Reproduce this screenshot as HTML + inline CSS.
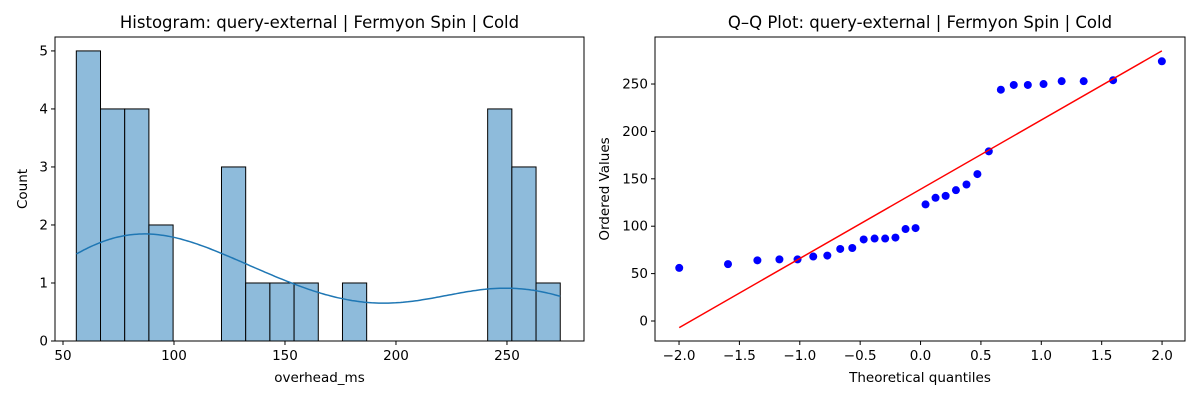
<!DOCTYPE html>
<html><head><meta charset="utf-8"><style>
body{margin:0;background:#fff}
svg{font-family:"DejaVu Sans","Liberation Sans",sans-serif}
</style></head><body>
<svg id="c" width="1200" height="400"></svg>
<script>
const samples=[56,60,64,65,65,68,69,76,77,86,87,87,88,97,98,123,130,132,138,144,155,179,244,249,249,250,253,253,254,274];
const histXTicks=[50,100,150,200,250];
const histYTicks=[0,1,2,3,4,5];
const qqXTicks=[-2.0,-1.5,-1.0,-0.5,0.0,0.5,1.0,1.5,2.0];
const qqYTicks=[0,50,100,150,200,250];
const binCount=20;

const NS="http://www.w3.org/2000/svg";
const svg=document.getElementById('c');
function mk(tag,attrs,parent,text){const e=document.createElementNS(NS,tag);for(const k in attrs)e.setAttribute(k,attrs[k]);if(text!==undefined)e.textContent=text;(parent||svg).appendChild(e);return e;}

// ---------- Histogram ----------
const H={l:55,r:584,t:37,b:341,x0:46.4,x1:284.7,y0:0,y1:5.24};
const hx=v=>H.l+(v-H.x0)/(H.x1-H.x0)*(H.r-H.l);
const hy=v=>H.b-(v-H.y0)/(H.y1-H.y0)*(H.b-H.t);
const mn=Math.min(...samples),mx=Math.max(...samples),bw=(mx-mn)/binCount;
const counts=new Array(binCount).fill(0);
samples.forEach(v=>{let i=Math.floor((v-mn)/bw);if(i>=binCount)i=binCount-1;counts[i]++;});
const g1=mk('g',{});


counts.forEach((c,i)=>{if(!c)return;const r=mk('rect',{x:hx(mn+i*bw),y:hy(c),width:hx(mn+(i+1)*bw)-hx(mn+i*bw),height:hy(0)-hy(c),fill:'#8ebbdb',stroke:'#000','stroke-width':1},g1);

});
const n=samples.length,mean=samples.reduce((a,b)=>a+b)/n;
const sd=Math.sqrt(samples.reduce((a,b)=>a+(b-mean)**2,0)/(n-1));
const h=sd*Math.pow(n,-0.2);
let d='';for(let k=0;k<=200;k++){const x=mn+(mx-mn)*k/200;let s=0;samples.forEach(v=>{s+=Math.exp(-0.5*((x-v)/h)**2);});const dens=s/(n*h*Math.sqrt(2*Math.PI));d+=(k?'L':'M')+hx(x).toFixed(1)+','+hy(dens*n*bw).toFixed(1);}
const kde=mk('path',{d:d,fill:'none',stroke:'#1f77b4','stroke-width':1.5},g1);


mk('rect',{x:H.l,y:H.t,width:H.r-H.l,height:H.b-H.t,fill:'none',stroke:'#000','stroke-width':1},g1);
histXTicks.forEach(t=>{const x=hx(t);mk('line',{x1:x,x2:x,y1:H.b,y2:H.b+4,stroke:'#000'},g1);const tx=mk('text',{x:x,y:H.b+19,'text-anchor':'middle','font-size':13.5},g1,t);

});
histYTicks.forEach(t=>{const y=hy(t);mk('line',{x1:H.l-4,x2:H.l,y1:y,y2:y,stroke:'#000'},g1);const tx=mk('text',{x:H.l-7,y:y+4.5,'text-anchor':'end','font-size':13.5},g1,t);

});
const t1=mk('text',{x:(H.l+H.r)/2,y:28,'text-anchor':'middle','font-size':16.5},g1,'Histogram: query-external | Fermyon Spin | Cold');


const xl1=mk('text',{x:(H.l+H.r)/2,y:382,'text-anchor':'middle','font-size':13.5},g1,'overhead_ms');


const yl1=mk('text',{x:0,y:0,'text-anchor':'middle','font-size':13.5,transform:`translate(27,${(H.t+H.b)/2}) rotate(-90)`},g1,'Count');



// ---------- Q-Q ----------
function ppf(p){const a=[-39.6968302866538,220.946098424521,-275.928510446969,138.357751867269,-30.6647980661472,2.50662827745924],b=[-54.4760987982241,161.585836858041,-155.698979859887,66.8013118877197,-13.2806815528857],c=[-0.00778489400243029,-0.322396458041136,-2.40075827716184,-2.54973253934373,4.37466414146497,2.93816398269878],dd=[0.00778469570904146,0.32246712907004,2.445134137143,3.75440866190742];const pl=0.02425;let q,r;
if(p<pl){q=Math.sqrt(-2*Math.log(p));return(((((c[0]*q+c[1])*q+c[2])*q+c[3])*q+c[4])*q+c[5])/((((dd[0]*q+dd[1])*q+dd[2])*q+dd[3])*q+1);}
if(p>1-pl){q=Math.sqrt(-2*Math.log(1-p));return-(((((c[0]*q+c[1])*q+c[2])*q+c[3])*q+c[4])*q+c[5])/((((dd[0]*q+dd[1])*q+dd[2])*q+dd[3])*q+1);}
q=p-0.5;r=q*q;return(((((a[0]*r+a[1])*r+a[2])*r+a[3])*r+a[4])*r+a[5])*q/(((((b[0]*r+b[1])*r+b[2])*r+b[3])*r+b[4])*r+1);}
const ord=[...samples].sort((a,b)=>a-b);
const mq=[];const mN=Math.pow(0.5,1/n);
for(let i=1;i<=n;i++){let m=i===n?mN:(i===1?1-mN:(i-0.3175)/(n+0.365));mq.push(ppf(m));}
const Q={l:655,r:1185,t:37,b:341,x0:-2.199,x1:2.19,y0:-21.1,y1:299.6};
const qx=v=>Q.l+(v-Q.x0)/(Q.x1-Q.x0)*(Q.r-Q.l);
const qy=v=>Q.b-(v-Q.y0)/(Q.y1-Q.y0)*(Q.b-Q.t);
const g2=mk('g',{});


const mxq=mq.reduce((a,b)=>a+b)/n,myq=ord.reduce((a,b)=>a+b)/n;
let sxy=0,sxx=0;mq.forEach((x,i)=>{sxy+=(x-mxq)*(ord[i]-myq);sxx+=(x-mxq)**2;});
const slope=sxy/sxx,icpt=myq-slope*mxq;
mq.forEach((x,i)=>{const p=mk('circle',{cx:qx(x),cy:qy(ord[i]),r:4,fill:'#0000ff'},g2);

});
const fl=mk('line',{x1:qx(mq[0]),y1:qy(icpt+slope*mq[0]),x2:qx(mq[n-1]),y2:qy(icpt+slope*mq[n-1]),stroke:'#ff0000','stroke-width':1.5},g2);


mk('rect',{x:Q.l,y:Q.t,width:Q.r-Q.l,height:Q.b-Q.t,fill:'none',stroke:'#000','stroke-width':1},g2);
qqXTicks.forEach(t=>{const x=qx(t);mk('line',{x1:x,x2:x,y1:Q.b,y2:Q.b+4,stroke:'#000'},g2);const tx=mk('text',{x:x,y:Q.b+19,'text-anchor':'middle','font-size':13.5},g2,(t<0?'\u2212':'')+Math.abs(t).toFixed(1));

});
qqYTicks.forEach(t=>{const y=qy(t);mk('line',{x1:Q.l-4,x2:Q.l,y1:y,y2:y,stroke:'#000'},g2);const tx=mk('text',{x:Q.l-7,y:y+4.5,'text-anchor':'end','font-size':13.5},g2,t);

});
const t2=mk('text',{x:(Q.l+Q.r)/2,y:28,'text-anchor':'middle','font-size':16.5},g2,'Q\u2013Q Plot: query-external | Fermyon Spin | Cold');


const xl2=mk('text',{x:(Q.l+Q.r)/2,y:382,'text-anchor':'middle','font-size':13.5},g2,'Theoretical quantiles');


const yl2=mk('text',{x:0,y:0,'text-anchor':'middle','font-size':13.5,transform:`translate(609,${(Q.t+Q.b)/2}) rotate(-90)`},g2,'Ordered Values');


</script>
</body></html>
